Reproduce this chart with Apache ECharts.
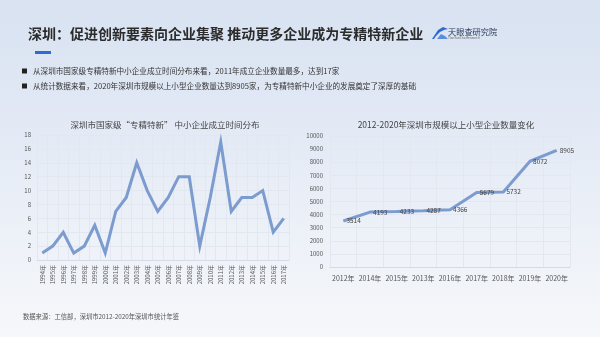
<!DOCTYPE html>
<html>
<head>
<meta charset="utf-8">
<script src="https://cdn.jsdelivr.net/npm/echarts@6/dist/echarts.min.js"></script>
<style>
  html, body { margin: 0; padding: 0; }
  #chart { width: 600px; height: 337px; }
</style>
</head>
<body>
<div id="chart"></div>
<script>
// 深圳市国家级"专精特新"中小企业成立时间分布
const foundYears = ['1994年','1995年','1996年','1997年','1998年','1999年','2000年','2001年','2002年','2003年','2004年','2005年',
  '2006年','2007年','2008年','2009年','2010年','2011年','2012年','2013年','2014年','2015年','2016年','2017年'];
const foundCounts = [1, 2, 4, 1, 2, 5, 1, 7, 9, 14, 10, 7, 9, 12, 12, 2, 9, 17, 7, 9, 9, 10, 4, 6];

// 2012-2020年深圳市规模以上小型企业数量
const smeYears = ['2012年','2014年','2015年','2013年','2016年','2017年','2018年','2019年','2020年'];
const smeCounts = [3514, 4193, 4233, 4287, 4366, 5679, 5732, 8072, 8905];

const pageTitle = '深圳：促进创新要素向企业集聚 推动更多企业成为专精特新企业';
const bullets = [
  '从深圳市国家级专精特新中小企业成立时间分布来看，2011年成立企业数量最多，达到17家',
  '从统计数据来看，2020年深圳市规模以上小型企业数量达到8905家，为专精特新中小企业的发展奠定了深厚的基础'
];
const leftTitle = '深圳市国家级“专精特新” 中小企业成立时间分布';
const rightTitle = '2012-2020年深圳市规模以上小型企业数量变化';
const sourceNote = '数据来源：工信部，深圳市2012-2020年深圳市统计年鉴';

const FONT = '"Noto Sans CJK SC", "Noto Sans", sans-serif';
const LINE = '#7c9bcf';
const GRID_LINE = '#e3e8f0';

const peakIdx = foundCounts.indexOf(Math.max(...foundCounts));

const chart = echarts.init(document.getElementById('chart'), null, { renderer: 'canvas' });

const bulletGraphics = [];
bullets.forEach((t, i) => {
  const y = 71 + i * 15;
  bulletGraphics.push({ type: 'rect', shape: { x: 22, y: y - 2.5, width: 5, height: 5 }, style: { fill: '#222' } });
  bulletGraphics.push({ type: 'text', x: 33, y: y, style: { text: t, font: '7.6px ' + FONT, fill: '#333', textVerticalAlign: 'middle' } });
});

chart.setOption({
  backgroundColor: {
    type: 'linear', x: 0, y: 0, x2: 0, y2: 1,
    colorStops: [
      { offset: 0, color: '#d8e2f1' },
      { offset: 0.35, color: '#e2e9f5' },
      { offset: 0.7, color: '#edf1f8' },
      { offset: 1, color: '#f6f7fa' }
    ]
  },
  animation: false,
  textStyle: { fontFamily: FONT },
  title: [
    { text: leftTitle, left: 160, top: 116, textAlign: 'center',
      textStyle: { fontSize: 8.5, fontWeight: 'normal', color: '#444', fontFamily: FONT } },
    { text: rightTitle, left: 441, top: 116, textAlign: 'center',
      textStyle: { fontSize: 8.5, fontWeight: 'normal', color: '#444', fontFamily: FONT } }
  ],
  graphic: [
    { type: 'text', x: 28, y: 34, style: { text: pageTitle, font: 'bold 14px ' + FONT, fill: '#2b2b2b', textVerticalAlign: 'middle' } },
    { type: 'rect', shape: { x: 35, y: 51, width: 16, height: 3 }, style: { fill: '#2f6bd3' } },
    // logo
    { type: 'polygon', shape: { points: [[432, 39], [438, 30], [443, 27], [448, 29], [444, 30], [440, 32], [436, 36], [434, 39]] }, style: { fill: '#2f6bd3' } },
    { type: 'polygon', shape: { points: [[437, 39], [441, 34], [445, 36], [448, 39]] }, style: { fill: '#5b8ee0' } },
    { type: 'text', x: 448, y: 32, style: { text: '天眼查研究院', font: '8.2px ' + FONT, fill: '#2a3a5a', textVerticalAlign: 'middle' } },
    { type: 'text', x: 448, y: 38, style: { text: 'TianYanCha Research', font: '3.2px ' + FONT, fill: '#666', textVerticalAlign: 'middle' } },
    ...bulletGraphics,
    { type: 'text', x: 23, y: 317, style: { text: sourceNote, font: '6.3px ' + FONT, fill: '#555', textVerticalAlign: 'middle' } }
  ],
  grid: [
    { left: 37, right: 311, top: 135, bottom: 77 },
    { left: 330, right: 30, top: 136, bottom: 70 }
  ],
  xAxis: [
    {
      gridIndex: 0, type: 'category', data: foundYears, boundaryGap: true,
      axisLine: { lineStyle: { color: '#d5dbe5' } },
      axisTick: { show: false },
      axisLabel: { rotate: 90, fontSize: 6, color: '#555', interval: 0, margin: 5 },
      splitLine: { show: true, lineStyle: { color: GRID_LINE } }
    },
    {
      gridIndex: 1, type: 'category', data: smeYears, boundaryGap: true,
      axisLine: { lineStyle: { color: '#d5dbe5' } },
      axisTick: { show: false },
      axisLabel: { fontSize: 7, color: '#555', interval: 0, margin: 8 },
      splitLine: { show: true, lineStyle: { color: GRID_LINE } }
    }
  ],
  yAxis: [
    {
      gridIndex: 0, type: 'value', min: 0, max: 18, interval: 2,
      axisLine: { show: false }, axisTick: { show: false },
      axisLabel: { fontSize: 6, color: '#555', margin: 6 },
      splitLine: { lineStyle: { color: GRID_LINE } }
    },
    {
      gridIndex: 1, type: 'value', min: 0, max: 10000, interval: 1000,
      axisLine: { show: false }, axisTick: { show: false },
      axisLabel: { fontSize: 6, color: '#555', margin: 7, formatter: v => String(v) },
      splitLine: { lineStyle: { color: GRID_LINE } }
    }
  ],
  series: [
    {
      type: 'line', xAxisIndex: 0, yAxisIndex: 0,
      data: foundCounts.map((v, i) => i === peakIdx
        ? { value: v, label: { show: true, position: 'left', distance: 2, formatter: '{c} —', fontSize: 6.5, color: '#333' } }
        : v),
      showSymbol: false, symbol: 'none',
      lineStyle: { color: LINE, width: 3, join: 'miter' },
      label: { show: false }
    },
    {
      type: 'line', xAxisIndex: 1, yAxisIndex: 1,
      data: smeCounts,
      symbol: 'circle', symbolSize: 0.1, showSymbol: true,
      itemStyle: { color: LINE },
      lineStyle: { color: LINE, width: 3 },
      label: { show: true, position: 'right', distance: 3, fontSize: 6.5, color: '#444' }
    }
  ]
});
</script>
</body>
</html>
